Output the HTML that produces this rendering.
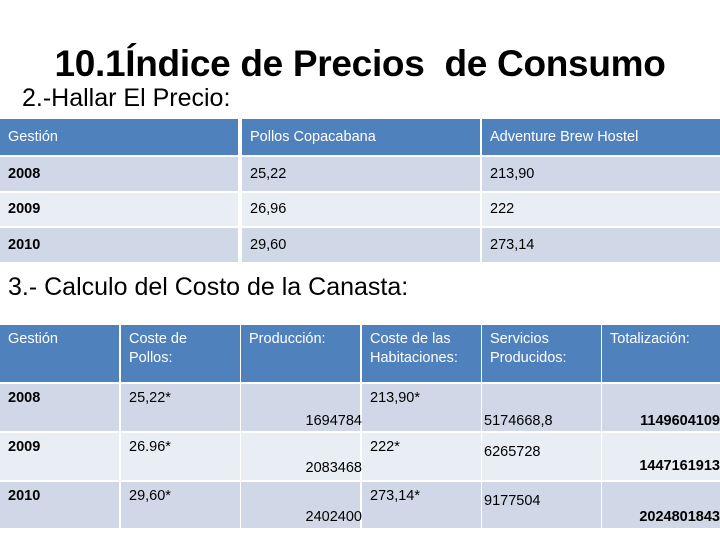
<!DOCTYPE html>
<html><head><meta charset="utf-8">
<style>
body{margin:0;width:720px;height:540px;background:#fff;position:relative;overflow:hidden;font-family:"Liberation Sans",sans-serif;}
.a{position:absolute;white-space:nowrap;}
.c{position:absolute;box-sizing:border-box;padding:0 8px;font-size:14.5px;color:#000;}
.h{background:#4F81BD;color:#fff;}
.r1{background:#D0D8E8;}
.r2{background:#E9EDF4;}
b{font-weight:bold;}
</style></head><body>
<div class="a" style="left:0;width:720px;text-align:center;top:43px;font-size:37px;font-weight:bold;letter-spacing:-0.3px;">10.1Índice de Precios&nbsp; de Consumo</div>
<div class="a" style="left:22px;top:84px;font-size:25px;">2.-Hallar El Precio:</div>
<div id="t1"></div>
<div class="a" style="left:8px;top:273px;font-size:25px;">3.- Calculo del Costo de la Canasta:</div>
<div id="t2"></div>
<script>
const years=["2008","2009","2010"];
const pollos=["25,22","26,96","29,60"];
const hostel=["213,90","222","273,14"];
const pollosStar=["25,22*","26.96*","29,60*"];
const habit=["213,90*","222*","273,14*"];
const produccion=["1694784","2083468","2402400"];
const servicios=["5174668,8","6265728","9177504"];
const totales=["1149604109","1447161913","2024801843"];
function cell(parent,x,y,w,h,cls,html,name,extra){
  const d=document.createElement('div');
  d.className='c '+cls;
  d.style.cssText=`left:${x}px;top:${y}px;width:${w}px;height:${h}px;`+(extra||'');
  d.innerHTML=html;
  
  
  parent.appendChild(d);return d;
}
const t1=document.getElementById('t1');
const c1=[0,242,482],w1=[238,238,238];
const ty1=[119,157,193,228],th1=[36,34,33,34];
["Gestión","Pollos Copacabana","Adventure Brew Hostel"].forEach((s,i)=>cell(t1,c1[i],ty1[0],w1[i],th1[0],'h',s,'header-cell','line-height:36px;'));
years.forEach((y,r)=>{
  const cls=r%2?'r2':'r1';
  [`<b>${y}</b>`,pollos[r],hostel[r]].forEach((s,i)=>cell(t1,c1[i],ty1[r+1],w1[i],th1[r+1],cls,s,'price-cell',`line-height:${th1[r+1]}px;`));
});
const t2=document.getElementById('t2');
const c2=[0,121,241,362,482,602],w2=[119,119,119,119,119,118];
const ty2=[325,384,433,482],th2=[57,47,47,46];
["Gestión","Coste de<br>Pollos:","Producción:","Coste de las<br>Habitaciones:","Servicios<br>Producidos:","Totalización:"].forEach((s,i)=>cell(t2,c2[i],ty2[0],w2[i],th2[0],'h',s,'header-cell','padding-top:5px;line-height:19px;'));
const prodTop=[29,27,27],servTop=[29,11,11],totTop=[29,25,27];
years.forEach((y,r)=>{
  const cls=r%2?'r2':'r1';
  const h=th2[r+1],top=ty2[r+1];
  cell(t2,c2[0],top,w2[0],h,cls,`<b>${y}</b>`,'year-cell','padding-top:6px;');
  cell(t2,c2[1],top,w2[1],h,cls,pollosStar[r],'pollos-cost-cell','padding-top:6px;');
  cell(t2,c2[2],top,w2[2],h,cls,`<div style="position:absolute;right:-2px;top:${prodTop[r]}px">${produccion[r]}</div>`,'production-cell','');
  cell(t2,c2[3],top,w2[3],h,cls,habit[r],'room-cost-cell','padding-top:6px;');
  cell(t2,c2[4],top,w2[4],h,cls,`<div style="position:absolute;left:2px;top:${servTop[r]}px">${servicios[r]}</div>`,'services-cell','');
  cell(t2,c2[5],top,w2[5],h,cls,`<b style="position:absolute;right:0;top:${totTop[r]}px">${totales[r]}</b>`,'total-cell','');
});
</script>
</body></html>
